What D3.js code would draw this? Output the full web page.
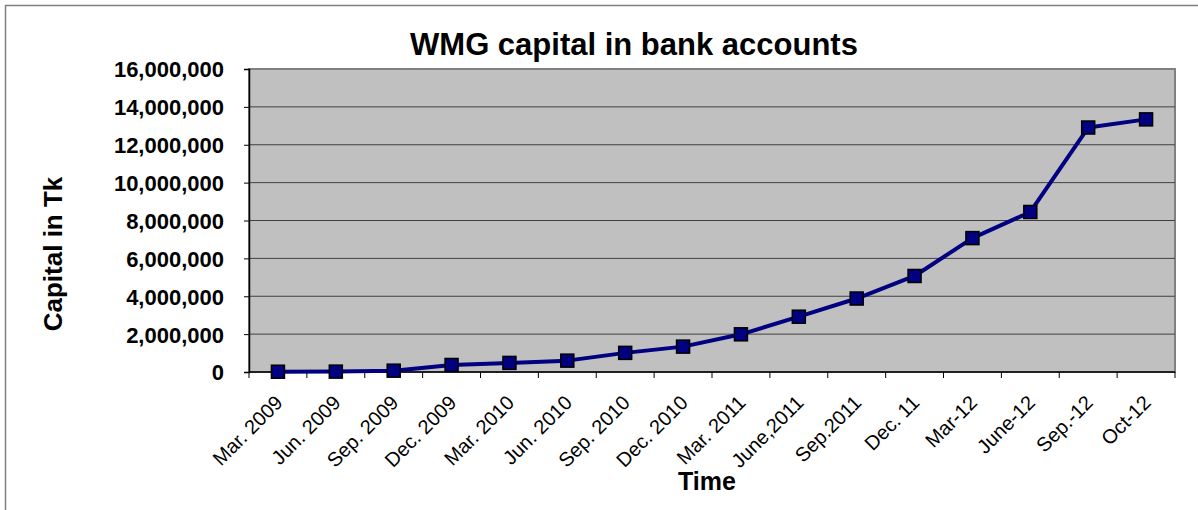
<!DOCTYPE html>
<html><head><meta charset="utf-8">
<script src="https://cdn.jsdelivr.net/npm/d3@7"></script>
<style>body{margin:0;background:#fff}svg{display:block;font-family:Arial,"Liberation Sans",sans-serif}</style>
</head><body><svg id="c" width="1198" height="510"></svg>
<script>
const categories = ["Mar. 2009","Jun. 2009","Sep. 2009","Dec. 2009","Mar. 2010","Jun. 2010","Sep. 2010","Dec. 2010","Mar. 2011","June,2011","Sep.2011","Dec. 11","Mar-12","June-12","Sep.-12","Oct-12"];
const capital = [15000,20000,70000,370000,480000,600000,1010000,1340000,1990000,2920000,3880000,5070000,7070000,8450000,12910000,13340000];
const yTicks = [0,2000000,4000000,6000000,8000000,10000000,12000000,14000000,16000000];

const svg = d3.select("#c");
const L=249,R=1175,T=69,B=372;
svg.append("rect").attr("x",5.5).attr("y",5.5).attr("width",1200).attr("height",520).attr("fill","none").attr("stroke","#808080").attr("stroke-width",1.5);

const x = d3.scaleBand().domain(categories).range([L,R]).padding(0);
const y = d3.scaleLinear().domain([0,16000000]).range([B,T]);

svg.append("rect").attr("x",L).attr("y",T).attr("width",R-L).attr("height",B-T).attr("fill","#c0c0c0").attr("stroke","#808080").attr("stroke-width",2);
svg.append("g").selectAll("line").data(yTicks.filter(d=>d>0&&d<16000000)).join("line")
  .attr("x1",L).attr("x2",R).attr("y1",d=>y(d)).attr("y2",d=>y(d)).attr("stroke","#404040").attr("stroke-width",1);

const fmt = d3.format(",");
const ya = svg.append("g").attr("transform",`translate(${L},0)`).call(d3.axisLeft(y).tickValues(yTicks).tickFormat(fmt).tickSize(5).tickPadding(20));
ya.select(".domain").attr("stroke","#000").attr("stroke-width",1.5);
ya.selectAll(".tick line").attr("stroke","#000");
ya.selectAll("text").attr("font-size",22).attr("font-weight","bold").attr("fill","#000").attr("font-family","Arial,'Liberation Sans',sans-serif").attr("dy","0.36em");

const xa = svg.append("g").attr("transform",`translate(0,${B})`);
xa.append("line").attr("x1",L).attr("x2",R).attr("y1",0).attr("y2",0).attr("stroke","#000").attr("stroke-width",1.5);
const bounds = categories.map(c=>x(c)).concat([R]);
xa.selectAll("line.t").data(bounds).join("line").attr("class","t").attr("x1",d=>d).attr("x2",d=>d).attr("y1",0).attr("y2",6).attr("stroke","#000");
xa.selectAll("text").data(categories).join("text")
  .attr("transform",d=>`translate(${x(d)+x.bandwidth()/2+1},${27}) rotate(-45)`)
  .attr("text-anchor","end").attr("font-size",20).attr("fill","#000").attr("dy","0.35em").text(d=>d);

const line = d3.line().x((d,i)=>x(categories[i])+x.bandwidth()/2).y(d=>y(d));
svg.append("path").datum(capital).attr("d",line).attr("fill","none").attr("stroke","#000080").attr("stroke-width",4).attr("stroke-linejoin","round");
svg.append("g").selectAll("rect").data(capital).join("rect")
  .attr("x",(d,i)=>x(categories[i])+x.bandwidth()/2-6.5).attr("y",d=>y(d)-6.5).attr("width",13).attr("height",13)
  .attr("fill","#000080").attr("stroke","#000").attr("stroke-width",1.5);

svg.append("text").attr("x",634).attr("y",55).attr("text-anchor","middle").attr("font-size",31).attr("font-weight","bold").text("WMG capital in bank accounts");
svg.append("text").attr("transform","translate(62,254) rotate(-90)").attr("text-anchor","middle").attr("font-size",26).attr("font-weight","bold").text("Capital in Tk");
svg.append("text").attr("x",707).attr("y",490).attr("text-anchor","middle").attr("font-size",25).attr("font-weight","bold").text("Time");
</script></body></html>
